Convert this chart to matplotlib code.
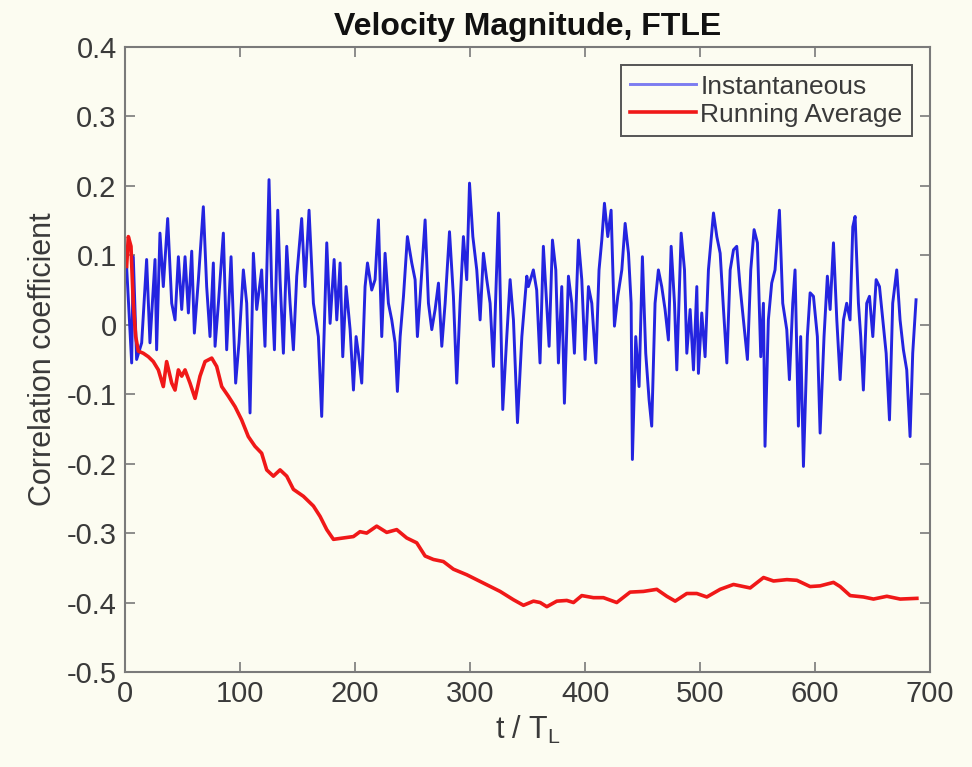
import matplotlib
matplotlib.use("Agg")
import matplotlib.pyplot as plt

plt.rcParams['font.family'] = ['Liberation Sans', 'DejaVu Sans']
plt.rcParams['mathtext.fontset'] = 'custom'
plt.rcParams['mathtext.rm'] = 'Liberation Sans'
plt.rcParams['mathtext.it'] = 'Liberation Sans'
plt.rcParams['axes.unicode_minus'] = False

title = "Velocity Magnitude, FTLE"
xlabel = r"t / T$_{\mathrm{L}}$"
ylabel = "Correlation coefficient"
legend_labels = ["Instantaneous", "Running Average"]

xticks = [0, 100, 200, 300, 400, 500, 600, 700]
xtick_labels = ["0", "100", "200", "300", "400", "500", "600", "700"]
yticks = [-0.5, -0.4, -0.3, -0.2, -0.1, 0.0, 0.1, 0.2, 0.3, 0.4]
ytick_labels = ["-0.5", "-0.4", "-0.3", "-0.2", "-0.1", "0", "0.1", "0.2", "0.3", "0.4"]

# Instantaneous correlation coefficient
inst_t = [1.4, 5.8, 7.2, 10.1, 14.5, 18.8, 21.7, 26.1, 27.5, 30.4, 33.3, 37.1, 40.6, 43.5,
          46.4, 49.3, 52.2, 55.1, 58.0, 60.3, 63.8, 68.1, 71.0, 73.9, 76.8, 78.3, 81.2,
          85.5, 88.4, 92.2, 94.2, 96.2, 99.1, 102.9, 105.8, 108.7, 111.6, 114.5, 118.8,
          121.7, 125.2, 127.5, 129.9, 132.8, 134.8, 137.7, 140.6, 143.5, 146.4, 149.3,
          153.6, 156.5, 160.0, 163.8, 168.1, 171.0,
          175.4, 178.3, 181.8, 184.1, 187.0, 189.3, 192.2, 195.7, 198.6, 200.9, 202.9,
          205.8, 208.7, 210.8, 214.5, 217.4, 220.3, 223.2, 226.1, 229.0, 231.9, 234.8,
          236.8, 239.2, 242.1, 245.5, 249.3, 252.2, 254.2, 256.6, 260.9, 263.8, 266.7,
          269.6, 272.5, 275.4, 278.3, 282.1, 285.5, 288.4, 291.3, 294.2, 297.1, 299.5,
          302.4, 305.8, 308.7, 311.6, 314.5, 317.4, 320.3, 324.7, 328.4, 331.9, 334.8,
          337.7, 341.2, 345.0, 349.3,
          350.7, 355.0, 357.9, 360.8, 363.7, 366.6, 368.7, 371.6, 374.5, 376.8, 379.7,
          382.0, 385.5, 388.4, 390.7, 394.2, 397.1, 400.0, 402.9, 405.8, 409.3, 412.1,
          414.5, 416.8, 419.7, 422.6, 425.5, 428.4, 431.9, 434.8, 437.7, 440.0, 441.1,
          444.0, 446.9, 449.8, 452.7, 455.6, 457.9, 460.8, 463.7, 466.6, 469.5, 472.4,
          474.8, 477.7, 479.7, 483.5, 486.4, 488.4, 491.3, 494.2, 497.1, 498.5, 501.4,
          504.3, 507.2, 511.6, 514.5, 517.4, 520.3, 523.2, 526.1, 529.0,
          531.8, 534.7, 537.6, 541.1, 544.0, 546.9, 549.8, 552.7, 555.0, 556.4, 559.3,
          562.2, 565.1, 568.9, 571.8, 575.3, 577.6, 580.5, 582.5, 585.4, 587.4, 589.8,
          593.2, 595.6, 598.5, 601.9, 604.3, 607.7, 610.6, 613.0, 615.9, 618.8, 621.7,
          624.6, 627.4, 630.3, 632.7, 634.7, 637.6, 639.6, 641.9, 644.8, 647.2, 650.1,
          653.0, 655.9, 658.8, 661.7, 664.6, 667.4, 670.9, 673.8, 676.7, 679.6, 682.5,
          684.8, 687.7]
inst_r = [0.084, -0.055, 0.098, -0.050, -0.026, 0.094, -0.026, 0.094, -0.036, 0.132, 0.055,
          0.153, 0.031, 0.007, 0.098, 0.022, 0.098, 0.017, 0.106, -0.012, 0.065, 0.170,
          0.055, -0.017, 0.089, -0.031, 0.031, 0.132, -0.036, 0.098, 0.007, -0.084, -0.026,
          0.079, 0.031, -0.127, 0.103, 0.022, 0.079, -0.031, 0.209, 0.055, -0.036, 0.165,
          0.065, -0.041, 0.113, 0.031, -0.036, 0.070, 0.153, 0.055, 0.165, 0.031, -0.017,
          -0.132,
          0.118, 0.002, 0.094, 0.007, 0.089, -0.046, 0.055, -0.007, -0.094, -0.017, -0.041,
          -0.084, 0.055, 0.089, 0.050, 0.065, 0.151, -0.017, 0.103, 0.031, 0.007, -0.026,
          -0.096, -0.017, 0.041, 0.127, 0.089, 0.065, -0.017, 0.041, 0.151, 0.031, -0.007,
          0.022, 0.060, -0.031, 0.031, 0.134, 0.041, -0.084, 0.031, 0.127, 0.065, 0.204,
          0.127, 0.079, 0.007, 0.103, 0.065, 0.031, -0.060, 0.161, -0.122, -0.017, 0.065,
          0.007, -0.141, -0.017, 0.070,
          0.055, 0.079, 0.050, -0.055, 0.113, 0.031, -0.031, 0.122, 0.079, -0.055, 0.055,
          -0.113, 0.070, 0.031, -0.041, 0.122, 0.065, -0.050, 0.055, 0.031, -0.055, 0.079,
          0.122, 0.175, 0.127, 0.165, -0.002, 0.041, 0.079, 0.146, 0.103, 0.031, -0.194,
          -0.017, -0.089, 0.098, -0.041, -0.108, -0.146, 0.031, 0.079, 0.055, 0.022, -0.022,
          0.113, 0.031, -0.065, 0.132, 0.079, -0.041, 0.022, -0.065, 0.055, -0.070, 0.017,
          -0.046, 0.079, 0.161, 0.127, 0.103, 0.022, -0.055, 0.079, 0.108,
          0.113, 0.055, 0.007, -0.050, 0.079, 0.137, 0.118, -0.046, 0.031, -0.175, 0.007,
          0.060, 0.079, 0.165, 0.031, -0.007, -0.079, 0.031, 0.079, -0.146, -0.017, -0.204,
          -0.017, 0.046, 0.041, -0.017, -0.156, -0.017, 0.070, 0.022, 0.118, 0.007, -0.079,
          0.007, 0.031, 0.007, 0.141, 0.156, 0.031, -0.017, -0.094, 0.031, 0.041, -0.017,
          0.065, 0.055, 0.007, -0.041, -0.137, 0.031, 0.079, 0.007, -0.036, -0.065, -0.161,
          -0.041, 0.036]

# Running average of the correlation coefficient
avg_t = [1.4, 2.9, 5.2, 7.2, 9.3, 11.6, 15.9, 20.3, 24.6, 29.0, 33.3, 36.2, 40.6, 43.5,
         46.4, 49.3, 52.2, 56.5, 60.9, 65.2, 69.6, 75.4, 79.7, 84.1, 89.9, 95.7, 101.4,
         107.2, 113.0, 118.8, 123.2, 129.0, 134.8, 140.6, 146.4, 155.1, 163.8, 169.6,
         175.4, 181.2, 189.9, 198.6, 204.3, 210.1, 218.8, 227.5, 236.2, 244.9, 253.6,
         260.9, 268.1, 276.8, 285.5, 297.1, 311.6, 326.1, 337.7, 346.4, 355.1, 360.9,
         366.7, 375.4, 384.1, 389.9, 397.1, 407.2, 415.9, 427.5, 439.1, 450.7, 462.3,
         471.0, 478.3, 488.4, 497.1, 505.8, 517.4, 529.0, 543.5, 555.1, 563.8, 575.4,
         584.1, 595.6, 604.3, 615.9, 621.7, 630.4, 642.0, 650.7, 662.3, 673.9, 688.4]
avg_r = [0.084, 0.127, 0.113, 0.031, -0.017, -0.038, -0.041, -0.046, -0.053, -0.065,
         -0.089, -0.053, -0.084, -0.094, -0.065, -0.074, -0.065, -0.084, -0.106, -0.074,
         -0.053, -0.048, -0.060, -0.089, -0.103, -0.118, -0.137, -0.161, -0.175, -0.185,
         -0.209, -0.218, -0.209, -0.218, -0.237, -0.247, -0.261, -0.276, -0.295, -0.309,
         -0.307, -0.305, -0.298, -0.300, -0.290, -0.299, -0.295, -0.307, -0.314, -0.333,
         -0.338, -0.341, -0.352, -0.360, -0.372, -0.384, -0.396, -0.404, -0.398, -0.400,
         -0.406, -0.398, -0.397, -0.400, -0.390, -0.393, -0.393, -0.400, -0.385, -0.384,
         -0.381, -0.391, -0.398, -0.387, -0.387, -0.392, -0.381, -0.374, -0.379, -0.364,
         -0.369, -0.367, -0.368, -0.377, -0.376, -0.371, -0.377, -0.390, -0.392, -0.395,
         -0.391, -0.395, -0.394]

bg = '#fcfcf1'
axis_col = '#7a7a7a'
text_col = '#3a3a3a'

fig = plt.figure(figsize=(9.72, 7.67), dpi=100, facecolor=bg)
ax = fig.add_axes([0.1286, 0.1239, 0.8284, 0.8148], facecolor=bg)

ax.plot(inst_t, inst_r, color='#2424e0', lw=2.1, label=legend_labels[0])
ax.plot(avg_t, avg_r, color='#f01818', lw=2.6, label=legend_labels[1])

ax.set_xlim(0, 700)
ax.set_ylim(-0.5, 0.4)
ax.set_xticks(xticks)
ax.set_xticklabels(xtick_labels)
ax.set_yticks(yticks)
ax.set_yticklabels(ytick_labels)
ax.tick_params(direction='in', top=True, right=True, length=7, width=1.2,
               colors=axis_col, labelcolor=text_col, labelsize=21, pad=6)
for s in ax.spines.values():
    s.set_color(axis_col)
    s.set_linewidth(1.5)

ax.set_title(title, fontsize=23, fontweight='bold', color='#111111', pad=9)
ax.set_xlabel(xlabel, fontsize=22, color=text_col, labelpad=4)
ax.set_ylabel(ylabel, fontsize=22, color=text_col, labelpad=6)

leg = ax.legend(loc='upper right', fontsize=19, frameon=True, fancybox=False,
                handlelength=2.5, handletextpad=0.15, borderpad=0.35,
                labelspacing=0.15, borderaxespad=0.7)
leg.get_frame().set_edgecolor('#555555')
leg.get_frame().set_linewidth(1.4)
leg.get_frame().set_facecolor(bg)
leg.get_frame().set_alpha(1)
leg.get_lines()[0].set_color('#7c7cf0')
for t in leg.get_texts():
    t.set_color(text_col)

fig.savefig('out.png', dpi=100, facecolor=bg)
